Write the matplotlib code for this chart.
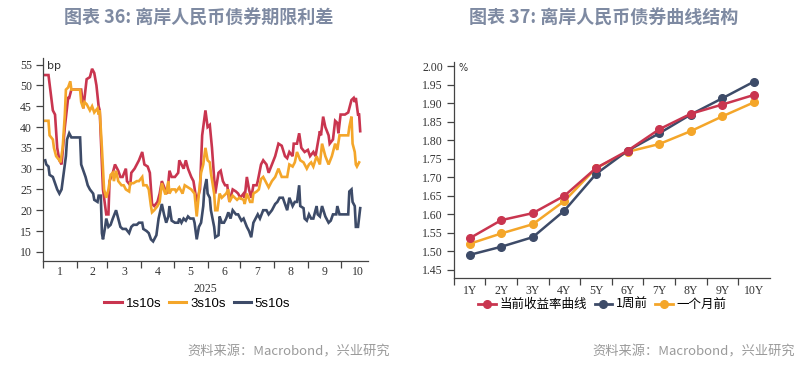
import numpy as np
import matplotlib
matplotlib.use("Agg")
import matplotlib.pyplot as plt
from matplotlib.lines import Line2D

plt.rcParams['font.family'] = ['Liberation Serif', 'Noto Sans CJK SC', 'DejaVu Sans']

# ---------------- data: left chart (days since 2025-01-01, bp) ----------------
s1_days = [2,5,9,11,13,15,17,20,23,24,26,35,37,40,43,45,47,49,51,52,55,58,60,61,64,66,69,71,73,76,77,80,81,84,86,88,91,93,96,98,100,102,105,107,109,112,114,116,118,121,124,125,129,131,133,136,138,141,144,146,147,149,151,153,155,158,161,163,165,167,169,171,174,177,179,181,184,185,187,189,191,193,196,197,200,202,205,207,210,213,216,219,222,224,226,229,230,233,235,237,240,243,245,248,250,252,254,255,257,259,262,263,266,268,270,271,273,277,280,283,285,286,287,289,290,291]
s1_vals = [52.5,52.5,44,43,35,32,31,40,47,47,49,49,44.5,51.5,52,54,53,50,45,44,25,19,19,27,29,31,29.5,28,28,30,27,26,29,30,31,32,34,31,30.5,29,21.5,21,22,24,27,25,24,29.5,28,28,29,32,30,32,30,28,27,22,25,38,40,44,40,40.5,35,24,29,29.5,27,26,26,22,25,24.5,24,23,24,23,28,25,23,26,26,27,31,32,31,29,31,33,36,35.5,33,32.5,34,33,36,36,38.5,35,34,34.5,33,34,33,36,39,38,42.5,40,38,36,37,41.5,41,38.5,43,43,43.5,46.5,47,46,47,43,43,39]

s3_days = [2,5,6,9,10,12,15,16,18,20,21,23,25,26,29,34,35,37,38,40,43,45,47,50,51,52,54,56,58,60,62,64,65,67,69,72,74,76,79,80,83,86,88,91,92,95,97,99,100,102,105,107,109,112,113,115,116,118,121,122,125,128,130,133,136,139,141,143,145,147,149,151,153,154,157,158,160,162,164,166,168,170,171,174,178,180,184,185,187,190,192,193,196,198,200,202,205,207,210,213,216,219,222,224,226,229,231,233,236,239,242,244,246,248,251,254,256,259,262,265,268,270,272,277,280,281,283,284,286,287,288,290]
s3_vals = [41.5,41.5,38,37,35,33,32,31.5,35,43,49,49.5,51,49,49,49,46,44.5,46,45.5,44,45,43.5,44.5,43,44,35,25,23,25,28.5,29,27,29.5,27,26,26,25,24.5,26.5,26.5,27,27,28,26,26,25,21,19.5,20,21,22,26.5,24,24,27,24,25,25,24.5,25.5,24,26,25.5,25,24,18.5,24,29,31,35,32,31.5,29,24,20,20,24,23,23.5,24,25,22,23.5,22.5,23,22.5,21.5,24,22,22,24,24.5,25,27.5,28,26.5,25.5,27,28,30,28,28,28,31,30.5,31.5,34,32,31.5,30,31,31.5,30.5,33,31,36,33,31,33,36,34.5,38,38,38,40,42.5,36,34,31,30.5,31.5]

s5_days = [2,3,5,6,9,11,13,15,17,19,21,22,24,26,29,34,35,37,39,41,43,46,47,50,51,53,54,55,57,58,60,62,64,67,69,71,73,76,79,81,83,86,88,91,92,95,97,99,101,104,106,109,111,113,115,116,118,121,124,125,127,129,131,133,135,138,139,141,143,145,147,148,150,151,153,154,157,158,161,162,164,166,168,170,172,174,177,179,182,184,187,189,191,193,195,197,199,202,205,207,210,213,215,217,220,222,224,226,229,231,233,235,236,239,240,242,244,246,248,251,252,254,256,259,262,264,266,269,270,272,277,280,281,283,284,286,287,289,291]
s5_vals = [32,31,30.5,28.5,28,26.5,25,24,25,29,33,37,38.5,37.5,37.5,37.5,31,29.5,28,26,25,24,22.5,22,23.5,23.5,14.5,13,16,18,16,16.5,18,20,18,16,15.5,15.5,14.5,16,16.5,16.5,17,17,15.5,15,14.5,13,12.5,14,18,21.5,19,17,18.5,21,17.5,17,17,18,17,18,17.5,18.5,18,18,17,13,16,17,21,25,27.5,24,23,20,16,13.5,14,18.5,17,17,18,19.5,18,20,19,19,17.5,18,16,15,13.5,17,18,19,18,20,20,19,20,21.5,22,23,23,21.5,20,23,21,22,22,26,21,20.5,18,17.5,19,18,18,21,19,18.5,21,18.5,17,17.5,19,19,21,19,19,19,24.5,25,22,21,16,16,20.5]

spread_names = ["1s10s", "3s10s", "5s10s"]
month_labels = ["1", "2", "3", "4", "5", "6", "7", "8", "9", "10"]
year_label = "2025"
left_yticks = [10, 15, 20, 25, 30, 35, 40, 45, 50, 55]

# ---------------- data: right chart ----------------
tenors = ["1Y", "2Y", "3Y", "4Y", "5Y", "6Y", "7Y", "8Y", "9Y", "10Y"]
curve_now = [1.535, 1.584, 1.603, 1.650, 1.725, 1.772, 1.830, 1.872, 1.897, 1.923]
curve_1w = [1.490, 1.512, 1.538, 1.610, 1.709, 1.772, 1.819, 1.870, 1.914, 1.959]
curve_1m = [1.520, 1.548, 1.573, 1.636, 1.725, 1.769, 1.790, 1.825, 1.865, 1.903]
curve_names = ["当前收益率曲线", "1周前", "一个月前"]
right_yticks = [1.45, 1.50, 1.55, 1.60, 1.65, 1.70, 1.75, 1.80, 1.85, 1.90, 1.95, 2.00]

title_left = "图表 36: 离岸人民币债券期限利差"
title_right = "图表 37: 离岸人民币债券曲线结构"
source_text = "资料来源：Macrobond，兴业研究"

# ---------------- styles ----------------
RED = "#C9354F"
ORANGE = "#F4A62A"
NAVY = "#3D4B68"
AXC = "#444444"
TITLE_C = "#7E8AA2"
SRC_C = "#9A9A9A"
TICKFONT = dict(family=['Liberation Serif'], size=8.5, color="#333333")

fig = plt.figure(figsize=(8.12, 3.65), dpi=100)

# ---------------- left chart ----------------
axL = fig.add_axes([0.053, 0.285, 0.400, 0.555])
for d, v, c, n in zip([s1_days, s3_days, s5_days], [s1_vals, s3_vals, s5_vals],
                      [RED, ORANGE, NAVY], spread_names):
    axL.plot(d, v, color=c, lw=1.9, label=n, solid_joinstyle='miter')

base = np.datetime64('2025-01-01')
bounds = [int((np.datetime64('2025-%02d-01' % m) - base) / np.timedelta64(1, 'D')) for m in range(1, 12)]
centers = [(bounds[i] + bounds[i + 1]) / 2 for i in range(10)]
axL.set_xlim(0, 298)
axL.set_ylim(7.8, 56.5)
axL.set_xticks(bounds[:10])
axL.set_xticklabels([])
axL.set_xticks(centers, minor=True)
axL.set_xticklabels(month_labels, minor=True, fontdict=TICKFONT)
axL.tick_params(axis='x', which='major', length=5, width=0.9, color=AXC, direction='out')
axL.tick_params(axis='x', which='minor', length=0, pad=3.5)
axL.set_yticks(left_yticks)
axL.set_yticklabels([str(t) for t in left_yticks], fontdict=TICKFONT)
axL.tick_params(axis='y', length=5, width=0.9, color=AXC, direction='out', pad=3)
for s in ['top', 'right']:
    axL.spines[s].set_visible(False)
for s in ['left', 'bottom']:
    axL.spines[s].set_color(AXC)
    axL.spines[s].set_linewidth(0.9)
axL.set_xlabel(year_label, fontdict=dict(family=['Liberation Serif'], size=8.5, color="#333333"), labelpad=4)
axL.text(0.012, 0.985, "bp", transform=axL.transAxes, ha='left', va='top',
         fontsize=8, family=['DejaVu Sans'], color="#333333")

hL = [Line2D([0], [0], color=c, lw=2.2) for c in [RED, ORANGE, NAVY]]
fig.legend(hL, spread_names, loc='center', bbox_to_anchor=(0.243, 0.168), ncol=3,
           frameon=False, handlelength=1.3, handletextpad=0.3, columnspacing=0.6,
           prop=dict(family=['Liberation Sans'], size=9.5))

# ---------------- right chart ----------------
axR = fig.add_axes([0.559, 0.238, 0.389, 0.592])
xs = np.arange(1, len(tenors) + 1)
axR.plot(xs, curve_1m, color=ORANGE, lw=1.8, marker='o', ms=5.5, label=curve_names[2], zorder=3)
axR.plot(xs, curve_1w, color=NAVY, lw=1.8, marker='o', ms=5.5, label=curve_names[1], zorder=4)
axR.plot(xs, curve_now, color=RED, lw=1.8, marker='o', ms=5.5, label=curve_names[0], zorder=5)
axR.set_xlim(0.5, 10.5)
axR.set_ylim(1.427, 2.012)
axR.set_xticks(np.arange(0.5, 10.0, 1.0))
axR.set_xticklabels([])
axR.set_xticks(xs, minor=True)
axR.set_xticklabels(tenors, minor=True, fontdict=TICKFONT)
axR.tick_params(axis='x', which='major', length=5, width=0.9, color=AXC, direction='out')
axR.tick_params(axis='x', which='minor', length=0, pad=5)
axR.set_yticks(right_yticks)
axR.set_yticklabels(["%.2f" % t for t in right_yticks], fontdict=TICKFONT)
axR.tick_params(axis='y', length=5, width=0.9, color=AXC, direction='out', pad=3)
for s in ['top', 'right']:
    axR.spines[s].set_visible(False)
for s in ['left', 'bottom']:
    axR.spines[s].set_color(AXC)
    axR.spines[s].set_linewidth(0.9)
axR.text(0.015, 0.995, "%", transform=axR.transAxes, ha='left', va='top',
         fontsize=7, family=['DejaVu Sans'], color="#333333")

hR = [Line2D([0], [0], color=c, lw=2.0, marker='o', ms=5.5) for c in [RED, NAVY, ORANGE]]
fig.legend(hR, curve_names, loc='center', bbox_to_anchor=(0.742, 0.166), ncol=3,
           frameon=False, handlelength=1.4, handletextpad=0.3, columnspacing=0.6,
           prop=dict(family=['Noto Sans CJK SC', 'DejaVu Sans'], size=9))

# ---------------- titles & sources ----------------
fig.text(0.245, 0.951, title_left, ha='center', va='center', fontsize=13, fontweight='bold',
         color=TITLE_C, family=['Noto Sans CJK SC', 'DejaVu Sans'])
fig.text(0.743, 0.951, title_right, ha='center', va='center', fontsize=13, fontweight='bold',
         color=TITLE_C, family=['Noto Sans CJK SC', 'DejaVu Sans'])
fig.text(0.480, 0.036, source_text, ha='right', va='center', fontsize=9.5,
         color=SRC_C, family=['Noto Sans CJK SC', 'DejaVu Sans'])
fig.text(0.979, 0.036, source_text, ha='right', va='center', fontsize=9.5,
         color=SRC_C, family=['Noto Sans CJK SC', 'DejaVu Sans'])

fig.savefig("out.png", dpi=100, facecolor='white')
